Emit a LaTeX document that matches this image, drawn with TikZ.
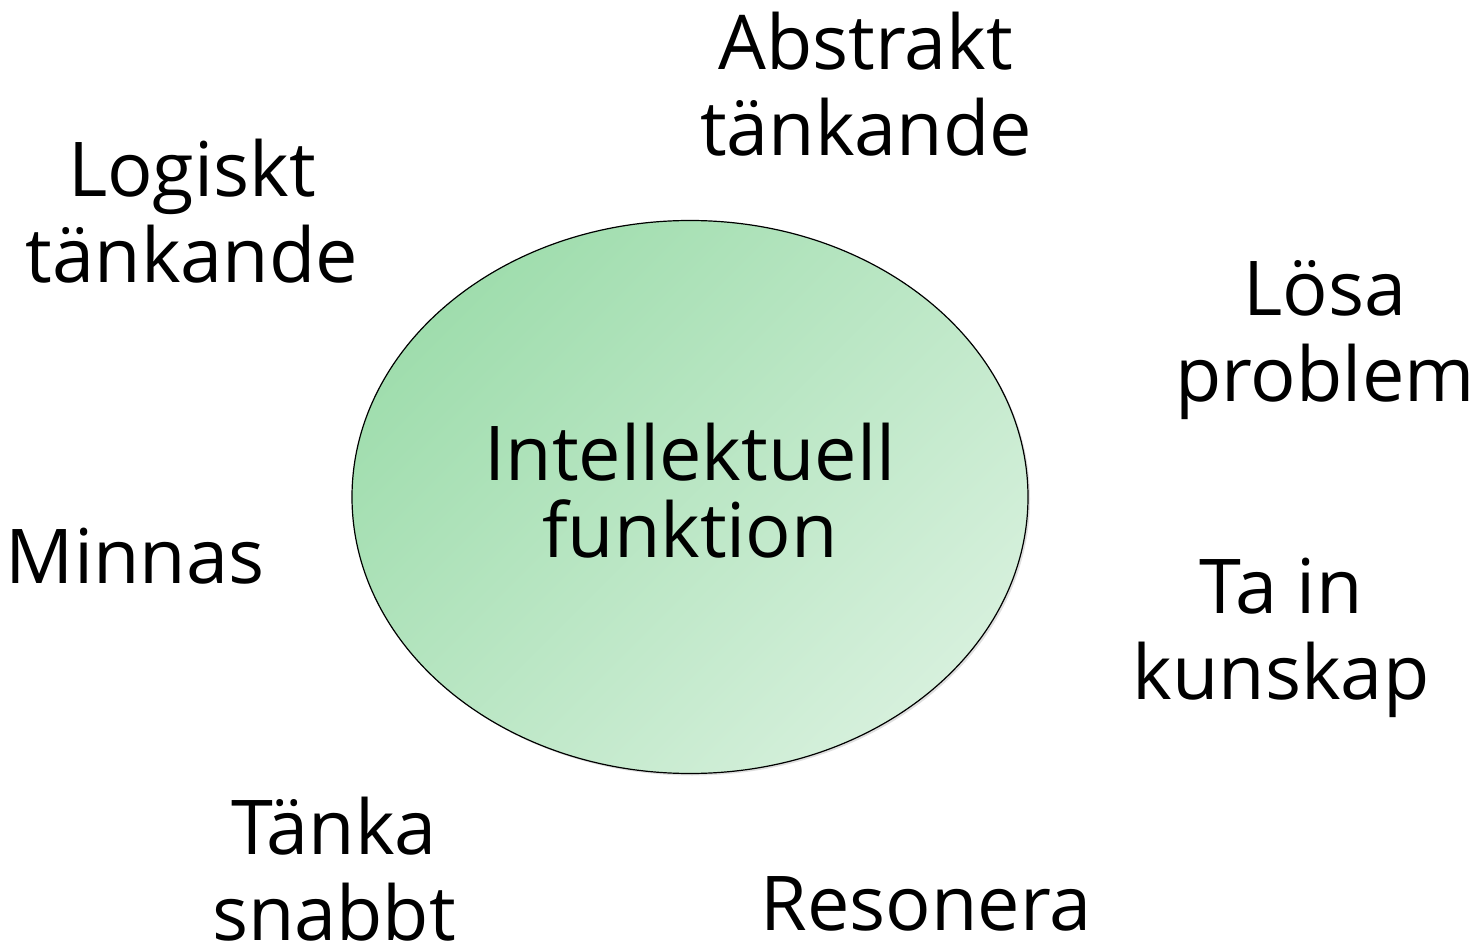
\documentclass[tikz,border=0pt]{standalone}
\usepackage{fontspec}
\setmainfont{Open Sans}
\usetikzlibrary{shapes.geometric,shadows}
\definecolor{greendark}{HTML}{9FDDAD}
\definecolor{greenlight}{HTML}{D6F0DC}
\tikzset{
  word/.style={align=center,anchor=base,inner sep=0pt,
    font=\fontsize{37.8}{43}\selectfont},
  core/.style={ellipse,draw=black,line width=0.6pt,
    minimum width=338pt,minimum height=276.5pt,inner sep=0pt,
    top color=greendark,bottom color=greenlight,shading angle=45,
    drop shadow={opacity=0.25,shadow xshift=1pt,shadow yshift=-1pt}},
  coreword/.style={word,font=\fontsize{37.8}{38.5}\selectfont}
}
\begin{document}
\begin{tikzpicture}[x=0.5pt,y=-0.5pt]
                \useasboundingbox (0,0) rectangle (1483,946);
                \node[core] (intellekt) at (690,497) {};
                \node[coreword] (intellekttext) at (690,557) {Intellektuell\\funktion};
                \node[word] (abstrakt) at (866,156) {Abstrakt\\tänkande};
                \node[word] (logiskt) at (192,283) {Logiskt\\tänkande};
                \node[word] (losa) at (1325,401) {Lösa\\problem};
                \node[word] (minnas) at (135,583) {Minnas};
                \node[word] (tain) at (1281,699) {Ta in\\kunskap};
                \node[word] (tanka) at (334,940) {Tänka\\snabbt};
                \node[word] (resonera) at (926,930) {Resonera};
            \end{tikzpicture}
\end{document}
